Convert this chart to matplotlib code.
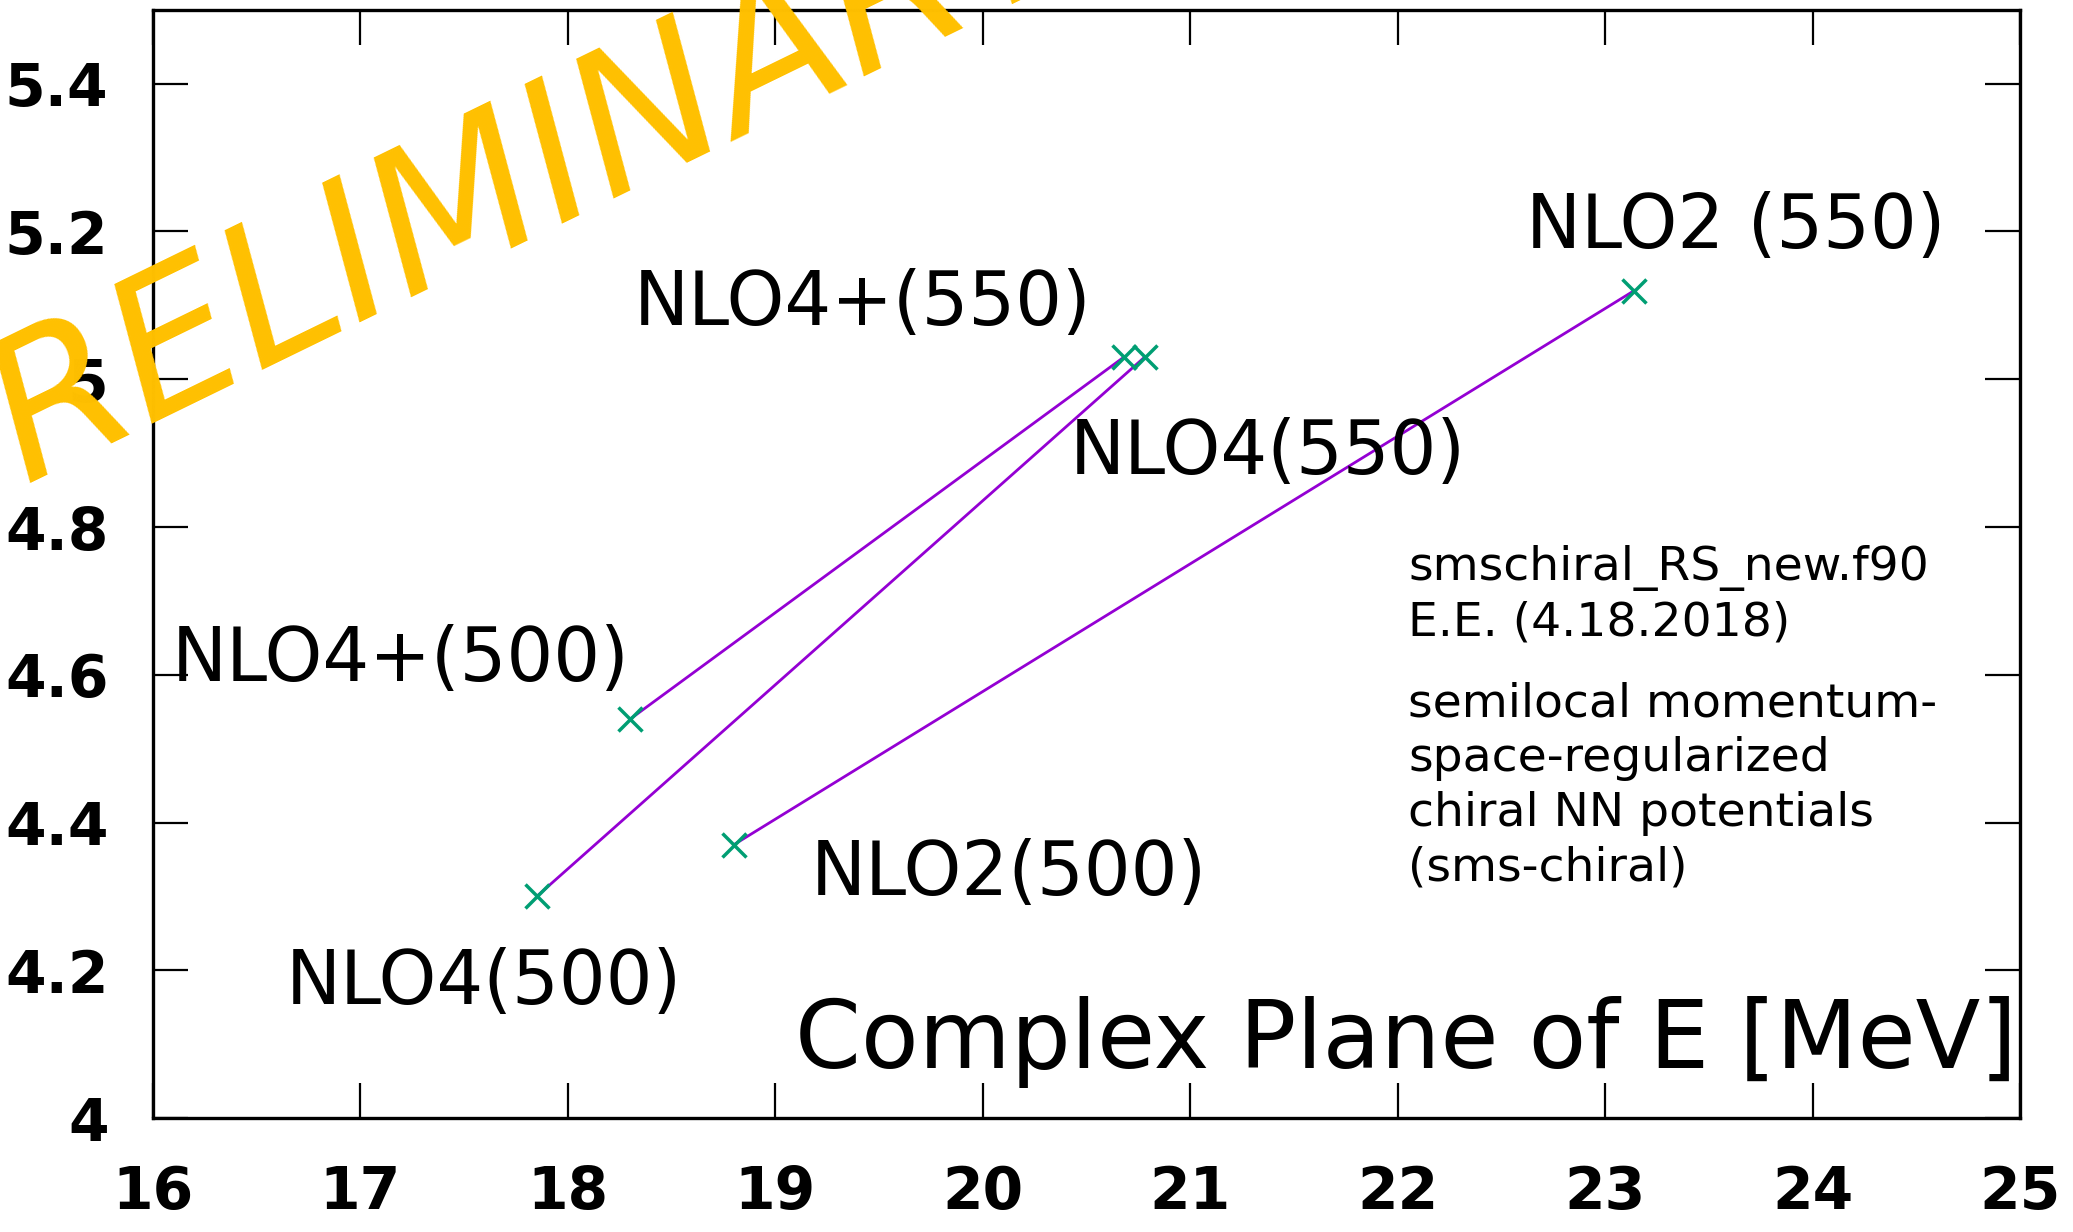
import matplotlib
matplotlib.use('Agg')
import matplotlib.pyplot as plt

# pole positions in the complex E plane (Re, Im)
labels = ['NLO2(500)', 'NLO4(500)', 'NLO4+(500)', 'NLO2 (550)', 'NLO4(550)', 'NLO4+(550)']
re_500 = [18.80, 17.85, 18.30]
im_500 = [4.37, 4.30, 4.54]
re_550 = [23.14, 20.78, 20.68]
im_550 = [5.12, 5.03, 5.03]

# label anchors (data coords, left / baseline)
label_x = [19.17, 16.64, 16.09, 22.62, 20.42, 18.315]
label_y = [4.302, 4.154, 4.591, 5.178, 4.872, 5.074]

xticks = [16, 17, 18, 19, 20, 21, 22, 23, 24, 25]
yticks = [4.0, 4.2, 4.4, 4.6, 4.8, 5.0, 5.2, 5.4]
yticklabels = ['4', '4.2', '4.4', '4.6', '4.8', '5', '5.2', '5.4']

fig = plt.figure(figsize=(20.73, 12.32), dpi=100)
ax = fig.add_axes([0.0738, 0.0925, 0.9007, 0.8995])

purple = '#9400D3'
green = '#009E73'

for i in range(3):
    ax.plot([re_500[i], re_550[i]], [im_500[i], im_550[i]], color=purple, lw=2.0, zorder=2)
ax.plot(re_500 + re_550, im_500 + im_550, 'x', color=green, ms=17, mew=2.5, zorder=3)

for i in range(len(labels)):
    ax.text(label_x[i], label_y[i], labels[i], fontsize=53, ha='left', va='baseline',
            family='DejaVu Sans')

ax.text(24.985, 4.068, 'Complex Plane of E [MeV]', fontsize=68, ha='right', va='baseline',
        family='DejaVu Sans')

# multi-line notes: anchored at the baseline of the last line
ax.text(22.05, 4.653, 'smschiral_RS_new.f90\nE.E. (4.18.2018)', fontsize=34, ha='left',
        va='baseline', linespacing=1.27, family='DejaVu Sans')
ax.text(22.05, 4.322, 'semilocal momentum-\nspace-regularized\nchiral NN potentials\n(sms-chiral)',
        fontsize=34, ha='left', va='baseline', linespacing=1.27, family='DejaVu Sans')

ax.set_xlim(16, 25)
ax.set_ylim(4.0, 5.5)
ax.set_xticks(xticks)
ax.set_yticks(yticks)
ax.set_yticklabels(yticklabels)
ax.tick_params(direction='in', length=25, width=1.6, top=True, right=True)
ax.tick_params(axis='x', pad=33)
ax.tick_params(axis='y', pad=32)
for lab in ax.get_xticklabels() + ax.get_yticklabels():
    lab.set_family('DejaVu Sans')
    lab.set_fontsize(42)
    lab.set_fontweight('bold')
for s in ax.spines.values():
    s.set_linewidth(2.4)

# watermark
fig.text(480 / 2073, 1 - 200 / 1232, 'PRELIMINARY', fontsize=140, color='#FFC000',
         rotation=26, rotation_mode='anchor', ha='center', va='center',
         style='italic', family='DejaVu Sans', zorder=10)

fig.savefig('out.png', dpi=100)
